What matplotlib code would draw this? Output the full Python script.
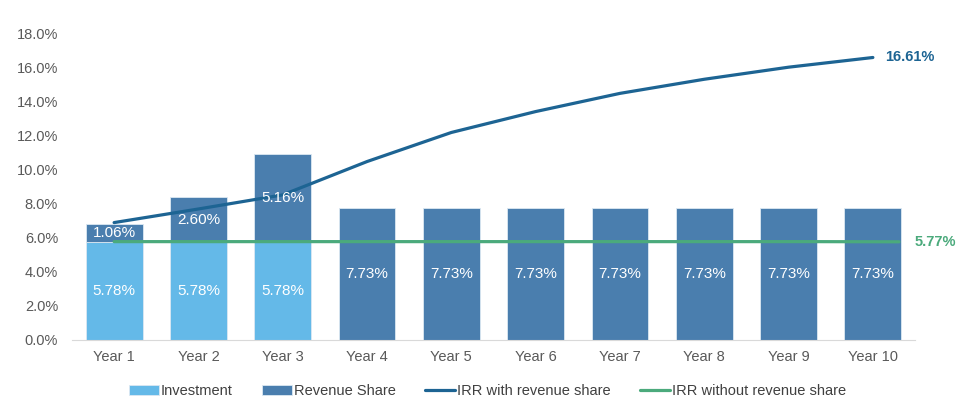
import numpy as np
import matplotlib.pyplot as plt

plt.rcParams['font.family'] = ['Liberation Sans', 'DejaVu Sans']

years = ["Year 1", "Year 2", "Year 3", "Year 4", "Year 5",
         "Year 6", "Year 7", "Year 8", "Year 9", "Year 10"]
investment = [5.78, 5.78, 5.78, 0, 0, 0, 0, 0, 0, 0]
revenue_share = [1.06, 2.60, 5.16, 7.73, 7.73, 7.73, 7.73, 7.73, 7.73, 7.73]
irr_with = [6.90, 7.70, 8.53, 10.49, 12.20, 13.43, 14.50, 15.33, 16.04, 16.61]
irr_without = [5.78, 5.78, 5.78, 5.78, 5.78, 5.78, 5.78, 5.78, 5.78, 5.77]

c_inv = "#64B9E8"
c_rev = "#4A7EAE"
c_with = "#1D6493"
c_without = "#4BAA7C"

x = np.arange(len(years))
w = 0.675
# green series runs a little past the last category centre in the original
x_without = x * (9.31 / 9)

fig = plt.figure(figsize=(9.75, 4.13), dpi=100)
ax = fig.add_axes([0.0738, 0.177, 0.8647, 0.741])

b1 = ax.bar(x, investment, w, color=c_inv, edgecolor="#DCE8F2", linewidth=0.6,
            label="Investment", zorder=2)
b2 = ax.bar(x, revenue_share, w, bottom=investment, color=c_rev, edgecolor="#DCE8F2",
            linewidth=0.6, label="Revenue Share", zorder=2)
l1, = ax.plot(x, irr_with, color=c_with, lw=2.3, label="IRR with revenue share",
              zorder=3, solid_capstyle="round")
l2, = ax.plot(x_without, irr_without, color=c_without, lw=2.3,
              label="IRR without revenue share", zorder=3, solid_capstyle="round")

for i in range(len(years)):
    if investment[i] > 0:
        ax.text(x[i], investment[i] / 2, f"{investment[i]:.2f}%", ha="center", va="center",
                color="white", fontsize=11, zorder=4)
    ax.text(x[i], investment[i] + revenue_share[i] / 2, f"{revenue_share[i]:.2f}%",
            ha="center", va="center", color="white", fontsize=11, zorder=4)

ax.text(x[-1] + 0.14, irr_with[-1], f"{irr_with[-1]:.2f}%", color=c_with, fontsize=10.5,
        fontweight="bold", va="center", ha="left")
ax.text(x[-1] + 0.5, irr_without[-1], f"{irr_without[-1]:.2f}%", color=c_without,
        fontsize=10.5, fontweight="bold", va="center", ha="left")

ax.set_xlim(-0.5, len(years) - 0.5)
ax.set_ylim(0, 18)
ax.set_yticks(np.arange(0, 18.1, 2))
ax.set_yticklabels([f"{v:.1f}%" for v in np.arange(0, 18.1, 2)])
ax.set_xticks(x)
ax.set_xticklabels(years)
ax.tick_params(axis="both", length=0, colors="#595959", labelsize=10.5)
ax.tick_params(axis="x", pad=7)
ax.tick_params(axis="y", pad=10)
for s in ["top", "right", "left"]:
    ax.spines[s].set_visible(False)
ax.spines["bottom"].set_color("#D9D9D9")

fig.legend(handles=[b1, b2, l1, l2], loc="center", bbox_to_anchor=(0.5, 0.053), ncol=4,
           frameon=False, fontsize=10.5, labelcolor="#404040", handlelength=2.05,
           handleheight=0.6, handletextpad=0.15, columnspacing=2.0)

fig.savefig("out.png", dpi=100)
